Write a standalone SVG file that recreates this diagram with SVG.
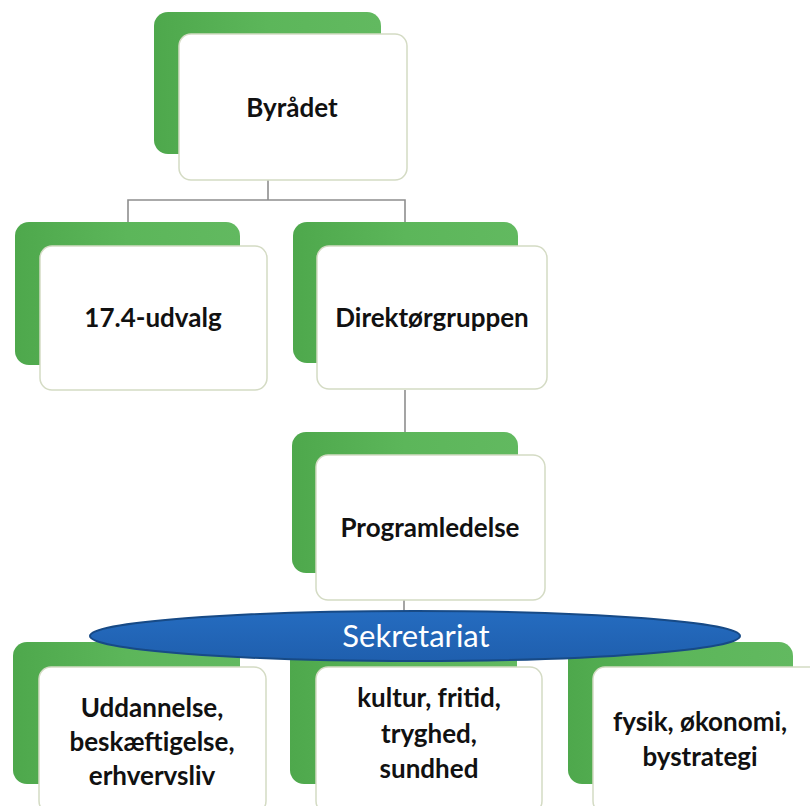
<svg xmlns="http://www.w3.org/2000/svg" width="810" height="806" viewBox="0 0 810 806">
<defs>
<linearGradient id="gg" x1="0" y1="0" x2="1" y2="0">
<stop offset="0" stop-color="#4ea84c"/>
<stop offset="0.5" stop-color="#5cb65a"/>
<stop offset="1" stop-color="#62b960"/>
</linearGradient>
<linearGradient id="bg" x1="0" y1="0" x2="0" y2="1">
<stop offset="0" stop-color="#256cc0"/>
<stop offset="1" stop-color="#1f5fae"/>
</linearGradient>
</defs>
<style>
.g{fill:url(#gg)}
.w{fill:#ffffff;stroke:#d4dbc4;stroke-width:1.5}
.t{font-family:Lato,"Open Sans","Liberation Sans",sans-serif;font-weight:bold;font-size:26px;fill:#111111;text-anchor:middle}
.c{fill:none;stroke:#8e8e8e;stroke-width:1.6}
.s{font-family:Lato,"Open Sans","Liberation Sans",sans-serif;font-size:31px;fill:#ffffff;text-anchor:middle}
</style>
<rect width="810" height="806" fill="#ffffff"/>
<g id="connectors">
<path class="c" d="M268 180V200M128 222V200H405V222"/>
<path class="c" d="M405 390V432"/>
<path class="c" d="M404 600V612"/>
</g>
<g id="byraadet">
<rect class="g" x="154" y="12" width="227" height="142" rx="14"/>
<rect class="w" x="179" y="34" width="228" height="146" rx="12"/>
<text class="t" x="292" y="117">Byrådet</text>
</g>
<g id="udvalg">
<rect class="g" x="15" y="222" width="225" height="143" rx="14"/>
<rect class="w" x="40" y="246" width="227" height="144" rx="12"/>
<text class="t" x="153" y="327">17.4-udvalg</text>
</g>
<g id="direktoergruppen">
<rect class="g" x="293" y="222" width="225" height="141" rx="14"/>
<rect class="w" x="317" y="246" width="230" height="143" rx="12"/>
<text class="t" x="432" y="327">Direktørgruppen</text>
</g>
<g id="programledelse">
<rect class="g" x="292" y="432" width="226" height="141" rx="14"/>
<rect class="w" x="316" y="455" width="229" height="145" rx="12"/>
<text class="t" x="430" y="537">Programledelse</text>
</g>
<g id="uddannelse">
<rect class="g" x="13" y="642" width="227" height="142" rx="14"/>
<rect class="w" x="39" y="667" width="227" height="146" rx="12"/>
<text class="t" x="152" y="717">Uddannelse,</text>
<text class="t" x="152" y="751">beskæftigelse,</text>
<text class="t" x="152" y="785">erhvervsliv</text>
</g>
<g id="kultur">
<rect class="g" x="290" y="642" width="227" height="142" rx="14"/>
<rect class="w" x="316" y="667" width="226" height="146" rx="12"/>
<text class="t" x="429" y="707">kultur, fritid,</text>
<text class="t" x="429" y="743">tryghed,</text>
<text class="t" x="429" y="778">sundhed</text>
</g>
<g id="fysik">
<rect class="g" x="568" y="642" width="225" height="142" rx="14"/>
<rect class="w" x="593" y="667" width="230" height="146" rx="12"/>
<text class="t" x="700" y="731">fysik, økonomi,</text>
<text class="t" x="700" y="766">bystrategi</text>
</g>
<g id="sekretariat">
<ellipse cx="415" cy="636" rx="325" ry="25" fill="url(#bg)" stroke="#174a86" stroke-width="2"/>
<text class="s" x="416" y="647">Sekretariat</text>
</g>
</svg>
